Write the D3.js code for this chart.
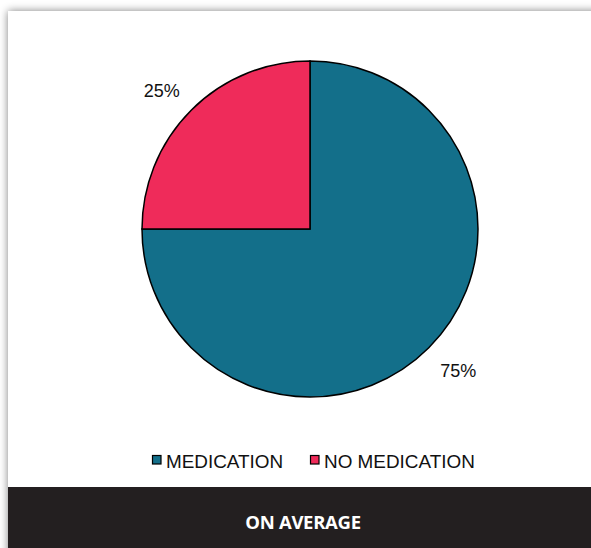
<!DOCTYPE html>
<html><head><meta charset="utf-8">
<script src="https://cdn.jsdelivr.net/npm/d3@7"></script>
<style>html,body{margin:0;padding:0;background:#fff;overflow:hidden}</style>
</head><body>
<svg id="c" width="591" height="548"></svg>
<script>
const categories = ["MEDICATION", "NO MEDICATION"];
const values = [75, 25];
const labels = ["75%", "25%"];
const colors = ["#136f8a", "#ef2b5a"];
const footerTitle = "ON AVERAGE";

const svg = d3.select("#c");
const W = 591, H = 548;
const defs = svg.append("defs");
const f = defs.append("filter").attr("id","sh").attr("x","-5%").attr("y","-5%").attr("width","110%").attr("height","110%");
f.append("feGaussianBlur").attr("in","SourceAlpha").attr("stdDeviation",4);
f.append("feOffset").attr("dx",0).attr("dy",0).attr("result","b");
f.append("feComponentTransfer").append("feFuncA").attr("type","linear").attr("slope",0.5);
const m = f.append("feMerge"); m.append("feMergeNode"); m.append("feMergeNode").attr("in","SourceGraphic");

svg.append("rect").attr("width",W).attr("height",H).attr("fill","#fff");
svg.append("rect").attr("x",8).attr("y",11).attr("width",W+20).attr("height",H+20)
  .attr("fill","#fff").attr("filter","url(#sh)");

const cx = 310, cy = 229, r = 168;
const pie = d3.pie().sort(null).startAngle(0).endAngle(2*Math.PI);
const arcs = pie(values);
const arc = d3.arc().innerRadius(0).outerRadius(r);
const g = svg.append("g").attr("transform",`translate(${cx},${cy})`);
g.selectAll("path").data(arcs).join("path")
  .attr("d",arc).attr("fill",(d,i)=>colors[i])
  .attr("stroke","#000").attr("stroke-width",1.5).attr("stroke-linejoin","miter");

const labelArc = d3.arc().innerRadius(r*1.215).outerRadius(r*1.215);
g.selectAll("text.lbl").data(arcs).join("text").attr("class","lbl")
  .attr("transform",d=>{const c=labelArc.centroid(d);return `translate(${c[0]+(c[0]<0?-4:4)},${c[1]+(c[1]<0?6:-3)})`;})
  .attr("text-anchor","middle").attr("dy","0.35em")
  .attr("font-family","Liberation Sans, Arial, sans-serif").attr("font-size",18).attr("fill","#111")
  .text((d,i)=>labels[i]);

// legend
const leg = svg.append("g");
const legX = [152, 310];
categories.forEach((c,i)=>{
  leg.append("rect").attr("x",legX[i]+0.5).attr("y",455.5).attr("width",8.5).attr("height",8.5)
    .attr("fill",colors[i]).attr("stroke","#000").attr("stroke-width",1.2);
  leg.append("text").attr("x",legX[i]+14).attr("y",468)
    .attr("font-family","Liberation Sans, Arial, sans-serif").attr("font-size",18.9).attr("fill","#111")
    .text(c);
});

// footer
svg.append("rect").attr("x",8).attr("y",487).attr("width",W).attr("height",H-487).attr("fill","#231f20");
svg.append("text").attr("x",303).attr("y",529).attr("text-anchor","middle")
  .attr("font-family","Open Sans, sans-serif").attr("font-weight","bold").attr("font-size",18.5)
  .attr("letter-spacing",-0.3)
  .attr("fill","#fff").text(footerTitle);
</script>
</body></html>
